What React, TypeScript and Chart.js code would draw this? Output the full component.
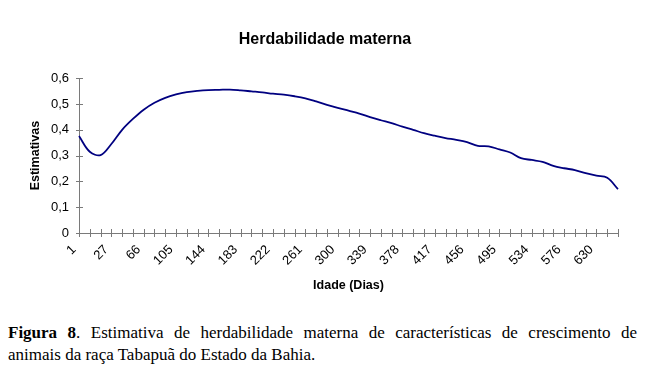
import React, { useEffect, useRef } from "react";
import { Chart, registerables } from "chart.js";

Chart.register(...registerables);

// Labelled days (every third category on the axis)
const dayLabels = ["1", "27", "66", "105", "144", "183", "222", "261", "300", "339", "378", "417", "456", "495", "534", "576", "630"];

// Maternal heritability estimates, one per category (51 categories)
const estimates = [
  0.376, 0.315, 0.302, 0.345, 0.400, 0.442, 0.478, 0.505, 0.524, 0.537,
  0.546, 0.551, 0.554, 0.555, 0.556, 0.553, 0.549, 0.545, 0.540, 0.536,
  0.530, 0.522, 0.510, 0.497, 0.485, 0.474, 0.463, 0.449, 0.437, 0.426,
  0.412, 0.400, 0.387, 0.377, 0.368, 0.361, 0.352, 0.338, 0.336, 0.324,
  0.312, 0.290, 0.283, 0.276, 0.260, 0.251, 0.244, 0.232, 0.222, 0.214,
  0.170,
];

const yTicks = [0, 0.1, 0.2, 0.3, 0.4, 0.5, 0.6];

const crossTicks = {
  id: "crossTicks",
  afterDraw(chart: any) {
    const { ctx, chartArea, scales } = chart;
    const xs = scales.x;
    const ys = scales.y;
    ctx.save();
    ctx.strokeStyle = "#7a7a7a";
    ctx.lineWidth = 1;
    ctx.beginPath();
    for (let i = 0; i < estimates.length; i++) {
      const px = Math.round(xs.getPixelForValue(i)) + 0.5;
      ctx.moveTo(px, chartArea.bottom - 4);
      ctx.lineTo(px, chartArea.bottom + 4);
    }
    for (const v of yTicks) {
      const py = Math.round(ys.getPixelForValue(v)) + 0.5;
      ctx.moveTo(chartArea.left - 3, py);
      ctx.lineTo(chartArea.left + 4, py);
    }
    ctx.stroke();
    ctx.restore();
  },
};

export default function App() {
  const canvasRef = useRef<HTMLCanvasElement | null>(null);

  useEffect(() => {
    if (!canvasRef.current) return;
    const labels = estimates.map((_, i) => String(i));
    const chart = new Chart(canvasRef.current, {
      type: "line",
      data: {
        labels,
        datasets: [
          {
            data: estimates,
            borderColor: "#000080",
            borderWidth: 1.8,
            pointRadius: 0,
            tension: 0.35,
            fill: false,
          },
        ],
      },
      options: {
        animation: false,
        responsive: true,
        maintainAspectRatio: false,
        layout: { padding: 0 },
        plugins: {
          legend: { display: false },
          tooltip: { enabled: false },
          title: {
            display: true,
            text: "Herdabilidade materna",
            color: "#000",
            font: { family: "Liberation Sans", size: 16, weight: "bold" },
            padding: { top: 30, bottom: 29 },
          },
        },
        scales: {
          x: {
            type: "category",
            offset: false,
            grid: { display: false, drawTicks: false },
            border: { display: true, color: "#7a7a7a", width: 1 },
            ticks: {
              autoSkip: false,
              maxRotation: 45,
              minRotation: 45,
              padding: 9,
              labelOffset: -5,
              color: "#000",
              font: { family: "Liberation Sans", size: 13 },
              callback: (_v: any, i: number) => (i % 3 === 0 && dayLabels[i / 3] !== undefined ? dayLabels[i / 3] : ""),
            },
            title: {
              display: true,
              text: "Idade (Dias)",
              color: "#000",
              font: { family: "Liberation Sans", size: 12.5, weight: "bold" },
              padding: { top: 0, bottom: 7 },
            },
            afterFit: (s: any) => {
              s.height = 67;
            },
          },
          y: {
            min: 0,
            max: 0.6,
            grid: { display: false, drawTicks: false },
            border: { display: true, color: "#7a7a7a", width: 1 },
            afterBuildTicks: (s: any) => {
              s.ticks = yTicks.map((v) => ({ value: v }));
            },
            ticks: {
              padding: 10,
              color: "#000",
              font: { family: "Liberation Sans", size: 13 },
              callback: (v: any) => (Number(v) === 0 ? "0" : Number(v).toFixed(1).replace(".", ",")),
            },
            title: {
              display: true,
              text: "Estimativas",
              color: "#000",
              font: { family: "Liberation Sans", size: 12.5, weight: "bold" },
              padding: { top: 28, bottom: 0 },
            },
            afterFit: (s: any) => {
              s.width = 79;
            },
          },
          yRight: {
            position: "right",
            display: true,
            min: 0,
            max: 0.6,
            grid: { display: false, drawTicks: false },
            border: { display: false },
            ticks: { display: false },
            afterFit: (s: any) => {
              s.width = 32;
            },
          },
        },
      },
      plugins: [crossTicks],
    });
    return () => chart.destroy();
  }, []);

  const captionStyle: React.CSSProperties = {
    fontFamily: "'Liberation Serif', serif",
    fontSize: 17,
    lineHeight: "22px",
    color: "#000",
    whiteSpace: "nowrap",
  };

  return (
    <div style={{ position: "absolute", left: 0, top: 0, width: 650, height: 371, background: "#fff", overflow: "hidden" }}>
      <div style={{ position: "absolute", left: 0, top: 0, width: 650, height: 300 }}>
        <canvas ref={canvasRef} />
      </div>
      <div style={{ position: "absolute", left: 8, top: 322, width: 629 }}>
        <div style={{ ...captionStyle, whiteSpace: "normal", textAlign: "justify", textAlignLast: "justify" }}>
          <b>Figura 8</b>. Estimativa de herdabilidade materna de características de crescimento de
        </div>
        <div style={captionStyle}>animais da raça Tabapuã do Estado da Bahia.</div>
      </div>
    </div>
  );
}
